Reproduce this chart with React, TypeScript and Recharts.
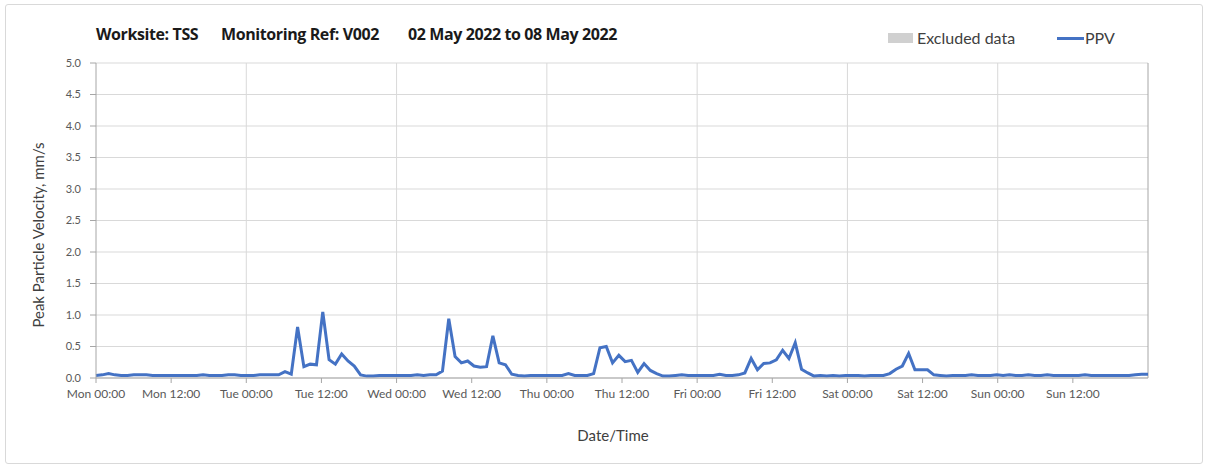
import React from 'react';
import { LineChart, Line, XAxis, YAxis, CartesianGrid, ReferenceLine } from 'recharts';

// Hourly PPV readings (mm/s), one array per day, Mon 00:00 .. Sun 23:00
const monPPV = [0.04, 0.05, 0.07, 0.05, 0.04, 0.04, 0.05, 0.05, 0.05, 0.04, 0.04, 0.04, 0.04, 0.04, 0.04, 0.04, 0.04, 0.05, 0.04, 0.04, 0.04, 0.05, 0.05, 0.04];
const tuePPV = [0.04, 0.04, 0.05, 0.05, 0.05, 0.05, 0.1, 0.06, 0.81, 0.18, 0.22, 0.21, 1.05, 0.29, 0.22, 0.38, 0.27, 0.19, 0.05, 0.03, 0.03, 0.04, 0.04, 0.04];
const wedPPV = [0.04, 0.04, 0.04, 0.05, 0.04, 0.05, 0.05, 0.11, 0.94, 0.34, 0.24, 0.27, 0.19, 0.17, 0.18, 0.67, 0.24, 0.21, 0.06, 0.04, 0.03, 0.04, 0.04, 0.04];
const thuPPV = [0.04, 0.04, 0.04, 0.07, 0.04, 0.04, 0.04, 0.07, 0.48, 0.5, 0.24, 0.36, 0.26, 0.28, 0.09, 0.23, 0.12, 0.07, 0.03, 0.03, 0.04, 0.05, 0.04, 0.04];
const friPPV = [0.04, 0.04, 0.04, 0.06, 0.04, 0.04, 0.05, 0.08, 0.31, 0.13, 0.23, 0.24, 0.29, 0.44, 0.31, 0.56, 0.14, 0.08, 0.03, 0.04, 0.03, 0.04, 0.03, 0.04];
const satPPV = [0.04, 0.04, 0.03, 0.04, 0.04, 0.04, 0.07, 0.14, 0.19, 0.39, 0.13, 0.13, 0.13, 0.05, 0.04, 0.03, 0.04, 0.04, 0.04, 0.05, 0.04, 0.04, 0.04, 0.05];
const sunPPV = [0.04, 0.05, 0.04, 0.04, 0.05, 0.04, 0.04, 0.05, 0.04, 0.04, 0.04, 0.04, 0.04, 0.05, 0.04, 0.04, 0.04, 0.04, 0.04, 0.04, 0.04, 0.05, 0.06, 0.06];

const tickLabels = [
  'Mon 00:00', 'Mon 12:00', 'Tue 00:00', 'Tue 12:00', 'Wed 00:00', 'Wed 12:00', 'Thu 00:00',
  'Thu 12:00', 'Fri 00:00', 'Fri 12:00', 'Sat 00:00', 'Sat 12:00', 'Sun 00:00', 'Sun 12:00',
];
const yTicks = [0, 0.5, 1, 1.5, 2, 2.5, 3, 3.5, 4, 4.5, 5];

const ppv = [...monPPV, ...tuePPV, ...wedPPV, ...thuPPV, ...friPPV, ...satPPV, ...sunPPV];
const data = ppv.map((v, i) => ({ i, ppv: v }));
const last = ppv.length - 1;
// the date axis spans the week; readings fill it edge to edge
const xTicks = tickLabels.map((_, k) => (k * last) / tickLabels.length);
const dayLines = [1, 2, 3, 4, 5, 6].map((d) => (d * last) / 7);

const FONT = 'Lato, "Open Sans", sans-serif';
const TITLE_FONT = '"Open Sans", Lato, sans-serif';
const abs = (s: React.CSSProperties): React.CSSProperties => ({ position: 'absolute', whiteSpace: 'pre', ...s });
const titleStyle = { top: 23, fontSize: 16, fontWeight: 700, color: '#1a1a1a', fontFamily: TITLE_FONT, letterSpacing: -0.4 };

export default function App() {
  return (
    <div style={{ position: 'absolute', left: 0, top: 0, width: 1208, height: 468, background: '#fff', fontFamily: FONT }}>
      <div style={abs({ left: 5, top: 4, width: 1196, height: 458, border: '1px solid #d9d9d9', borderRadius: 3 })} />

      <div style={abs({ left: 96, ...titleStyle })}>Worksite: TSS</div>
      <div style={abs({ left: 221, ...titleStyle })}>Monitoring Ref: V002</div>
      <div style={abs({ left: 408, ...titleStyle })}>02 May 2022 to 08 May 2022</div>

      <div style={abs({ left: 888, top: 33, width: 25, height: 10, background: '#d0d0d0' })} />
      <div style={abs({ left: 917, top: 28, fontSize: 16, color: '#404040' })}>Excluded data</div>
      <div style={abs({ left: 1057, top: 37, width: 27, height: 3, background: '#4472C4' })} />
      <div style={abs({ left: 1085, top: 28, fontSize: 16, color: '#404040' })}>PPV</div>

      <div style={abs({ left: 38, top: 235, fontSize: 15, color: '#404040', transform: 'translate(-50%, -50%) rotate(-90deg)' })}>
        Peak Particle Velocity, mm/s
      </div>
      <div style={abs({ left: 613, top: 435, fontSize: 15, color: '#404040', transform: 'translate(-50%, -50%)' })}>Date/Time</div>

      <LineChart width={1208} height={468} data={data} margin={{ top: 63, right: 60, bottom: 60, left: 0 }} style={{ position: 'absolute', left: 0, top: 0 }}>
        <CartesianGrid vertical={false} stroke="#d9d9d9" />
        {dayLines.map((x) => (
          <ReferenceLine key={x} x={x} stroke="#d9d9d9" />
        ))}
        <ReferenceLine x={last} stroke="#a6a6a6" />
        <XAxis
          dataKey="i"
          type="number"
          domain={[0, last]}
          ticks={xTicks}
          interval={0}
          height={30}
          tickFormatter={(_, idx) => tickLabels[idx]}
          tick={{ fontSize: 12, fill: '#595959', fontFamily: FONT }}
          tickSize={5}
          tickMargin={6}
          stroke="#a6a6a6"
        />
        <YAxis
          type="number"
          domain={[0, 5]}
          ticks={yTicks}
          width={96}
          tickFormatter={(v) => Number(v).toFixed(1)}
          tick={{ fontSize: 11, fill: '#595959', fontFamily: FONT }}
          tickSize={6}
          tickMargin={9}
          stroke="#a6a6a6"
        />
        <Line type="linear" dataKey="ppv" stroke="#4472C4" strokeWidth={3} dot={false} isAnimationActive={false} />
      </LineChart>
    </div>
  );
}
